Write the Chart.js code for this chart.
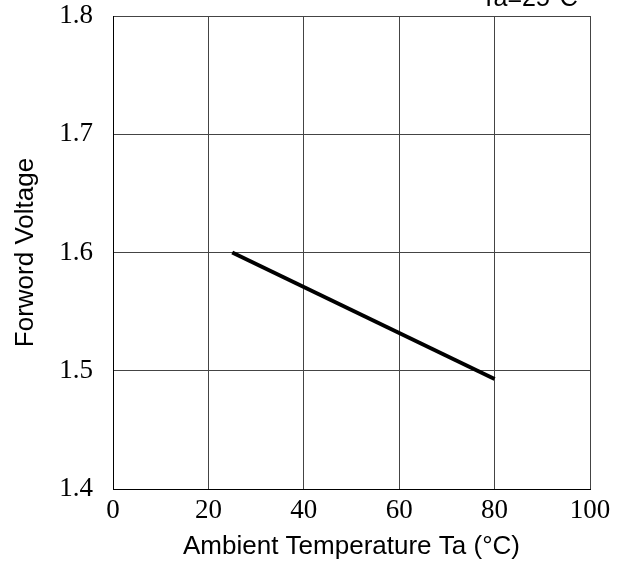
<!DOCTYPE html>
<html>
<head>
<meta charset="utf-8">
<script src="https://cdn.jsdelivr.net/npm/chart.js@4/dist/chart.umd.min.js"></script>
<style>
  body { margin: 0; background: #fff; }
  #wrap { position: relative; width: 628px; height: 564px; overflow: hidden; }
  #note { position: absolute; left: 481px; top: -15px; font: 25px "Liberation Sans", Arial, sans-serif; line-height: 25px; color: #000; white-space: nowrap; }
</style>
</head>
<body>
<div id="wrap">
  <canvas id="myChart" width="628" height="564"></canvas>
  <div id="note">Ta=25°C</div>
</div>
<script>
var ctx = document.getElementById("myChart").getContext("2d");

// ambient temperature (°C) and forward voltage (V)
const temps = [25, 80];
const volts = [1.6, 1.493];

const xTicks = [0, 20, 40, 60, 80, 100];
const yTicks = [1.4, 1.5, 1.6, 1.7, 1.8];

var chart = new Chart(ctx, {
  type: "line",
  data: {
    datasets: [
      {
        data: temps.map((t, i) => ({ x: t, y: volts[i] })),
        borderColor: "#000",
        borderWidth: 4,
        pointRadius: 0,
        fill: false
      }
    ]
  },
  options: {
    responsive: false,
    animation: false,
    layout: { padding: { top: 16, right: 38, left: 0, bottom: 0 } },
    plugins: { legend: { display: false }, tooltip: { enabled: false } },
    scales: {
      x: {
        type: "linear",
        min: 0,
        max: 100,
        afterBuildTicks: (s) => { s.ticks = xTicks.map(v => ({ value: v })); },
        afterFit: (s) => { s.height = 75; s.paddingLeft = 0; s.paddingRight = 0; },
        grid: { color: "#444", lineWidth: 1, drawTicks: false },
        border: { color: "#000", width: 1 },
        ticks: {
          color: "#000",
          padding: 6,
          maxRotation: 0,
          font: { family: "'Liberation Serif', 'Times New Roman', serif", size: 27 }
        },
        title: {
          display: true,
          text: "Ambient Temperature Ta (°C)",
          color: "#000",
          padding: { top: 0, bottom: 2 },
          font: { family: "'Liberation Sans', Arial, sans-serif", size: 26 }
        }
      },
      y: {
        min: 1.4,
        max: 1.8,
        afterBuildTicks: (s) => { s.ticks = yTicks.map(v => ({ value: v })); },
        afterFit: (s) => { s.width = 113; s.paddingTop = 0; s.paddingBottom = 0; },
        grid: { color: "#444", lineWidth: 1, drawTicks: false },
        border: { color: "#000", width: 1 },
        ticks: {
          color: "#000",
          padding: 20,
          callback: (v) => v.toFixed(1),
          font: { family: "'Liberation Serif', 'Times New Roman', serif", size: 27 }
        },
        title: {
          display: true,
          text: "Forword Voltage",
          color: "#000",
          padding: { top: 10, bottom: 0 },
          font: { family: "'Liberation Sans', Arial, sans-serif", size: 26 }
        }
      }
    }
  }
});
</script>
</body>
</html>
